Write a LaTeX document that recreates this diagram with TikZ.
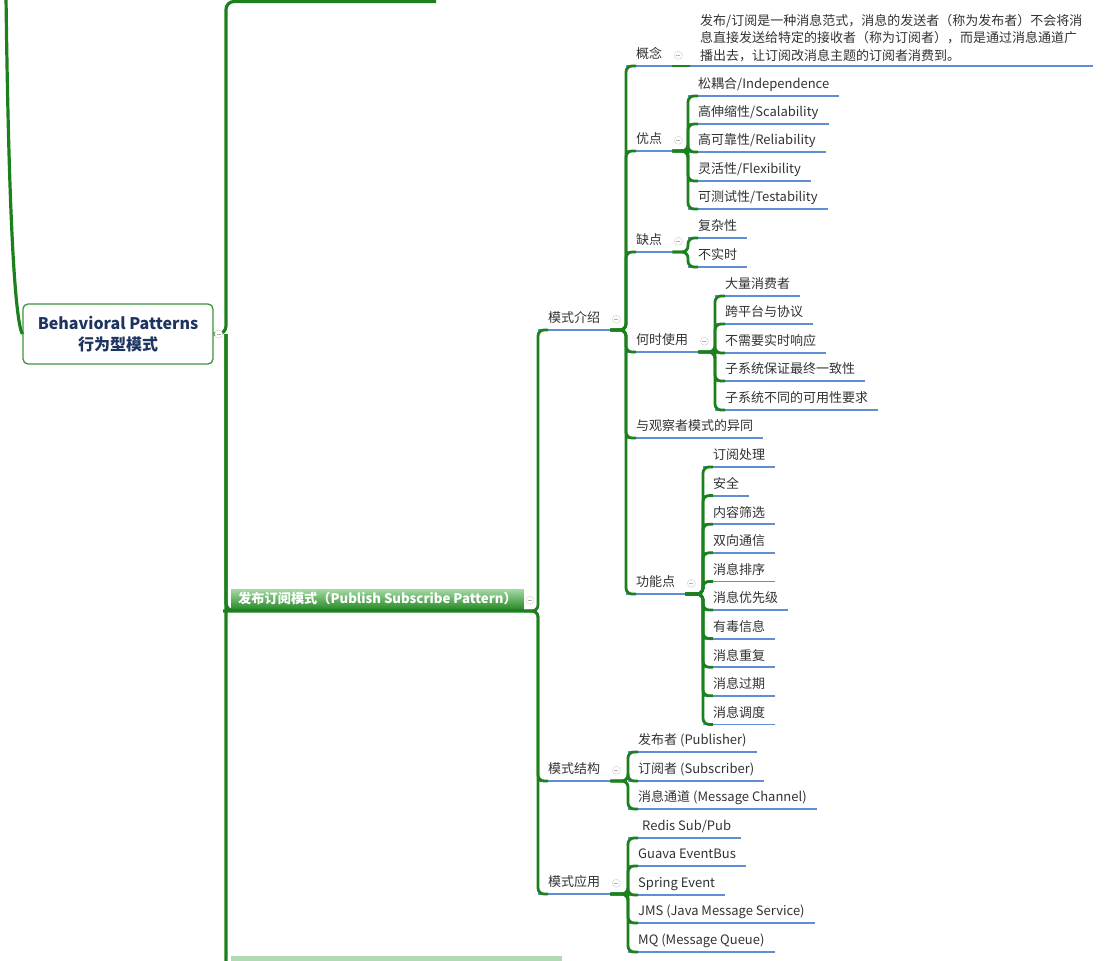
\documentclass[tikz,border=0pt]{standalone}
\usepackage{fontspec}
\setmainfont{Noto Sans CJK SC}
\usetikzlibrary{positioning, calc}

\definecolor{mapgreen}{RGB}{28,128,28}
\definecolor{ulblue}{RGB}{96,142,212}
\definecolor{txtgray}{RGB}{50,50,50}
\definecolor{navy}{RGB}{30,52,96}
\definecolor{barlight}{RGB}{160,214,160}
\definecolor{bardark}{RGB}{30,132,30}
\definecolor{nextgreen}{RGB}{178,218,178}

\tikzset{
  % Topic text with blue underline
  topic/.style={
    anchor=south west, inner xsep=10pt, inner ysep=4pt,
    text height=10pt, text depth=3pt, text=txtgray,
    font=\fontsize{13}{16}\selectfont,
    append after command={(\tikzlastnode.south west) edge[underline] (\tikzlastnode.south east)}
  },
  note/.style={topic, align=left, text height=, text depth=,
    font=\fontsize{13}{17.5}\selectfont},
  underline/.style={draw=ulblue, line width=1.8pt},
  % Central box
  bpbox/.style={
    draw=mapgreen!85, line width=1.3pt, rounded corners=5pt, fill=white,
    minimum width=190pt, minimum height=60pt, align=center,
    font=\fontsize{16}{21}\selectfont\bfseries, text=navy
  },
  mainbar/.style={
    anchor=south west, inner xsep=7pt, inner ysep=4pt,
    text height=10pt, text depth=3pt,
    top color=barlight, bottom color=bardark,
    text=white, font=\fontsize{13.2}{15}\selectfont\bfseries
  },
  nextbar/.style={anchor=north west, fill=nextgreen, minimum width=331pt,
    minimum height=14pt, inner sep=0pt},
  % Connectors
  trunk/.style={draw=mapgreen, line width=3.2pt, rounded corners=8pt},
  branch/.style={draw=mapgreen, line width=2.8pt, rounded corners=6pt},
  % Collapse marks
  fold/.style={
    circle, draw=gray!40, fill=white, minimum size=8pt, inner sep=0pt,
    path picture={\draw[gray!60, line width=0.6pt]
      ([xshift=-2pt]path picture bounding box.center) --
      ([xshift=2pt]path picture bounding box.center);}
  },
}

\begin{document}
\begin{tikzpicture}[x=1pt, y=-1pt]
  \useasboundingbox (0,0) rectangle (1107,960);
  \clip (0,0) rectangle (1107,960);

  %% ── Main topic ──
  \node[bpbox] (bp) at (118,334) {Behavioral Patterns\\行为型模式};
  \coordinate (root) at (6,-4);
  \draw[trunk] (root) .. controls (9,240) and (16,322) .. (bp.west);

  \coordinate (fork) at (226,334);
  \coordinate (prevtopic) at (436,1.5);
  \node[nextbar] (next) at (231,955.5) {};
  \node[mainbar] (pubsub) at (231,611) {发布订阅模式（Publish Subscribe Pattern）};

  \draw[trunk] (bp.east) -- (fork) |- (prevtopic);
  \draw[trunk] (fork) |- (next.south west);
  \draw[trunk] (fork) |- (pubsub.south west) -- (pubsub.south east);

  %% ── Level 2 ──
  \node[topic] (jieshao)  at (538,330) {模式介绍};
  \node[topic] (jiegou)   at (538,781) {模式结构};
  \node[topic] (yingyong) at (538,894) {模式应用};
  \foreach \c in {jieshao, jiegou, yingyong}
    \draw[branch] (pubsub.south east) -| (\c.south west) -- ++(10,0);

  %% ── 模式介绍 ──
  \node[topic] (gainian)  at (626,66)  {概念};
  \node[topic] (youdian)  at (626,151) {优点};
  \node[topic] (quedian)  at (626,252) {缺点};
  \node[topic] (heshi)    at (626,352) {何时使用};
  \node[topic] (yitong)   at (626,438) {与观察者模式的异同};
  \node[topic] (gongneng) at (626,594) {功能点};
  \foreach \c in {gainian, youdian, quedian, heshi, yitong, gongneng}
    \draw[branch] (jieshao.south east) -| (\c.south west) -- ++(10,0);

  % 概念
  \node[note] (gnText) at (690,66) {发布/订阅是一种消息范式，消息的发送者（称为发布者）不会将消\\
    息直接发送给特定的接收者（称为订阅者），而是通过消息通道广\\
    播出去，让订阅改消息主题的订阅者消费到。};
  \draw[branch] (gainian.south east) -- (gnText.south west);

  % 优点
  \node[topic] (songou)  at (688,96)  {松耦合/Independence};
  \node[topic] (shensuo) at (688,124) {高伸缩性/Scalability};
  \node[topic] (kekao)   at (688,152) {高可靠性/Reliability};
  \node[topic] (linghuo) at (688,181) {灵活性/Flexibility};
  \node[topic] (ceshi)   at (688,209) {可测试性/Testability};
  \foreach \c in {songou, shensuo, kekao, linghuo, ceshi}
    \draw[branch] (youdian.south east) -| (\c.south west) -- ++(10,0);

  % 缺点
  \node[topic] (fuza)     at (688,238) {复杂性};
  \node[topic] (bushishi) at (688,267) {不实时};
  \foreach \c in {fuza, bushishi}
    \draw[branch] (quedian.south east) -| (\c.south west) -- ++(10,0);

  % 何时使用
  \node[topic] (daliang)    at (715,296) {大量消费者};
  \node[topic] (kuapingtai) at (715,324) {跨平台与协议};
  \node[topic] (xiangying)  at (715,353) {不需要实时响应};
  \node[topic] (yizhi)      at (715,381) {子系统保证最终一致性};
  \node[topic] (keyong)     at (715,410) {子系统不同的可用性要求};
  \foreach \c in {daliang, kuapingtai, xiangying, yizhi, keyong}
    \draw[branch] (heshi.south east) -| (\c.south west) -- ++(10,0);

  % 功能点
  \foreach \t [count=\i] in {订阅处理, 安全, 内容筛选, 双向通信, 消息排序,
      消息优先级, 有毒信息, 消息重复, 消息过期, 消息调度}
    \node[topic] (feat\i) at (703,438.4+28.6*\i) {\t};
  \foreach \i in {1,...,10}
    \draw[branch] (gongneng.south east) -| (feat\i.south west) -- ++(10,0);

  %% ── 模式结构 ──
  \node[topic] (publisher)  at (628,752) {发布者 (Publisher)};
  \node[topic] (subscriber) at (628,781) {订阅者 (Subscriber)};
  \node[topic] (channel)    at (628,809) {消息通道 (Message Channel)};
  \foreach \c in {publisher, subscriber, channel}
    \draw[branch] (jiegou.south east) -| (\c.south west) -- ++(10,0);

  %% ── 模式应用 ──
  \node[topic] (redis)  at (628,838) {\hspace{4pt}Redis Sub/Pub};
  \node[topic] (guava)  at (628,866) {Guava EventBus};
  \node[topic] (spring) at (628,895) {Spring Event};
  \node[topic] (jms)    at (628,923) {JMS (Java Message Service)};
  \node[topic] (mq)     at (628,952) {MQ (Message Queue)};
  \foreach \c in {redis, guava, spring, jms, mq}
    \draw[branch] (yingyong.south east) -| (\c.south west) -- ++(10,0);

  %% ── Collapse marks ──
  \node[fold] (fold-bp) at ([xshift=5pt]bp.east) {};
  \node[fold] (fold-pubsub) at ([xshift=6pt]pubsub.east) {};
  \foreach \n in {jieshao, gainian, youdian, quedian, heshi, gongneng, jiegou, yingyong}
    \node[fold] (fold-\n) at ([xshift=6pt]\n.east) {};

\end{tikzpicture}
\end{document}
